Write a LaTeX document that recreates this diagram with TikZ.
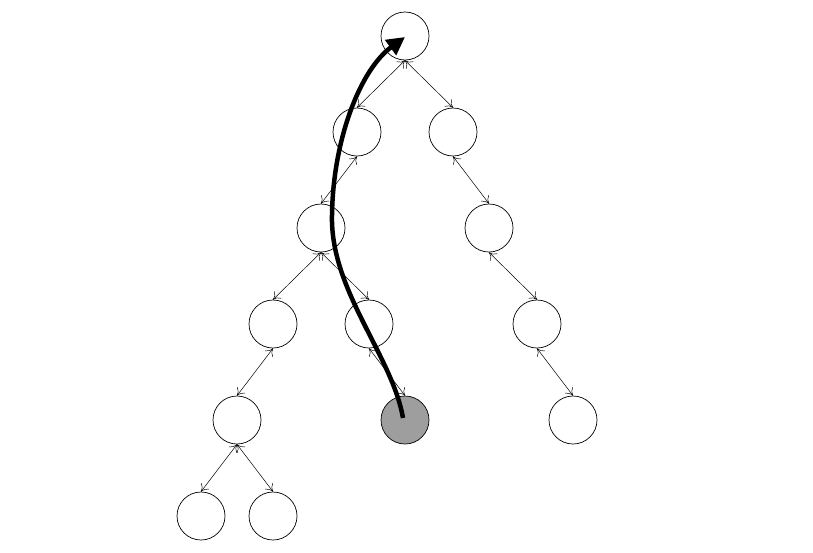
\documentclass[tikz,border=0pt]{standalone}
\usetikzlibrary{arrows.meta}
\begin{document}
\begin{tikzpicture}[x=1pt,y=-1pt,
  vert/.style={circle,draw,line width=0.7pt,minimum size=48pt,inner sep=0pt},
  hit/.style={vert,fill=black!38},
  link/.style={{To[length=7pt,width=10pt]}-{To[length=7pt,width=10pt]},line width=0.5pt},
  walk/.style={line width=4.5pt,-{Triangle[length=18pt,width=18pt]}}]
\useasboundingbox (0,0) rectangle (813,552);
\node[vert] (r) at (405,36) {};
\node[vert] (a) at (357,132) {};
\node[vert] (b) at (453,132) {};
\node[vert] (aa) at (321,228) {};
\node[vert] (bb) at (489,228) {};
\node[vert] (aaa) at (273,324) {};
\node[vert] (aab) at (369,324) {};
\node[vert] (bbb) at (537,324) {};
\node[vert] (c1) at (237,420) {};
\node[hit] (g) at (405,420) {};
\node[vert] (c3) at (573,420) {};
\node[vert] (d1) at (201,516) {};
\node[vert] (d2) at (273,516) {};
\foreach \p/\c in {r/a,r/b,a/aa,b/bb,aa/aaa,aa/aab,bb/bbb,aaa/c1,aab/g,bbb/c3,c1/d1,c1/d2}
  \draw[link] (\p.south) -- (\c.north);
\coordinate (s) at (403,418);
\coordinate (e) at (405,37);
\draw[walk] (s) .. controls (392,355) and (330,290) .. (332,215)
  .. controls (333,140) and (360,70) .. (e);
\end{tikzpicture}
\end{document}
